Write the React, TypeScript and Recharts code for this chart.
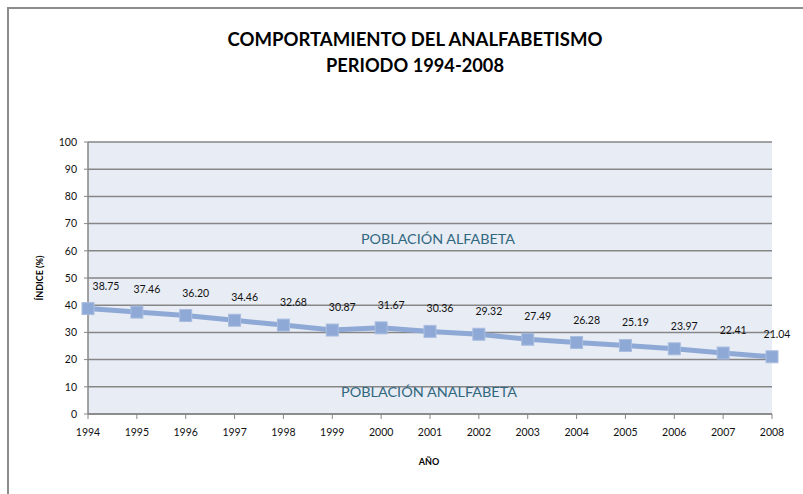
import React from "react";
import { LineChart, Line, XAxis, YAxis, CartesianGrid, LabelList, Customized } from "recharts";

const years = ["1994","1995","1996","1997","1998","1999","2000","2001","2002","2003","2004","2005","2006","2007","2008"];
const values = [38.75,37.46,36.2,34.46,32.68,30.87,31.67,30.36,29.32,27.49,26.28,25.19,23.97,22.41,21.04];
const yTicks = [0,10,20,30,40,50,60,70,80,90,100];
const titleLines = ["COMPORTAMIENTO DEL ANALFABETISMO", "PERIODO 1994-2008"];
const upperText = "POBLACIÓN ALFABETA";
const lowerText = "POBLACIÓN ANALFABETA";

const data = years.map((y, i) => ({ year: y, value: values[i] }));

const FONT = "Lato, 'Open Sans', sans-serif";
const LINE = "#8FA9D6";

const Square = (props: any) => {
  const { cx, cy } = props;
  if (cx == null || cy == null) return null;
  return <rect x={cx - 6} y={cy - 6} width={12} height={12} fill={LINE} stroke="#A9BDE0" strokeWidth={1} />;
};

const DataLabel = (props: any) => {
  const { x, y, value, index } = props;
  const dx = index === 0 ? 18 : index === values.length - 1 ? 5 : 10;
  return (
    <text x={x + dx} y={y - 19} textAnchor="middle" fontSize={10.5} fontFamily={FONT} fill="#111">
      {Number(value).toFixed(2)}
    </text>
  );
};

const Decor = () => (
  <g>
    <rect x={8} y={8} width={820} height={500} fill="none" stroke="#8C8C8C" strokeWidth={2} />
    <text x={415} y={46} textAnchor="middle" fontSize={18} fontWeight="bold" fontFamily={FONT} fill="#000" textLength={375} lengthAdjust="spacingAndGlyphs">{titleLines[0]}</text>
    <text x={415} y={72} textAnchor="middle" fontSize={18} fontWeight="bold" fontFamily={FONT} fill="#000" textLength={178} lengthAdjust="spacingAndGlyphs">{titleLines[1]}</text>
    <text x={438} y={244} textAnchor="middle" fontSize={14} fontFamily={FONT} fill="#31687F" textLength={154} lengthAdjust="spacingAndGlyphs">{upperText}</text>
    <text x={429} y={397} textAnchor="middle" fontSize={14} fontFamily={FONT} fill="#31687F" textLength={176} lengthAdjust="spacingAndGlyphs">{lowerText}</text>
    <text x={429} y={465} textAnchor="middle" fontSize={9} fontWeight="bold" fontFamily={FONT} fill="#000">AÑO</text>
    <text x={0} y={0} transform="translate(43,278) rotate(-90)" textAnchor="middle" fontSize={9} fontWeight="bold" fontFamily={FONT} fill="#000">ÍNDICE (%)</text>
  </g>
);

export default function App() {
  return (
    <div style={{ position: "absolute", left: 0, top: 0, width: 803, height: 494, background: "#fff" }}>
      <LineChart width={803} height={494} data={data} margin={{ top: 142, right: 31, bottom: 50, left: 48 }}>
        <Customized component={Decor} />
        <CartesianGrid vertical={false} stroke="#868686" strokeWidth={1.5} fill="#E8ECF4" />
        <XAxis
          dataKey="year"
          height={30}
          axisLine={{ stroke: "#868686", strokeWidth: 1.5 }}
          tickLine={{ stroke: "#868686" }}
          tickSize={5}
          tickMargin={10}
          tick={{ fontSize: 10.5, fontFamily: FONT, fill: "#111" }}
          interval={0}
        />
        <YAxis
          domain={[0, 100]}
          ticks={yTicks}
          width={40}
          axisLine={{ stroke: "#868686", strokeWidth: 1.5 }}
          tickLine={{ stroke: "#868686" }}
          tickSize={4}
          tickMargin={7}
          tick={{ fontSize: 10.5, fontFamily: FONT, fill: "#111" }}
          interval={0}
        />
        <Line
          type="linear"
          dataKey="value"
          stroke={LINE}
          strokeWidth={5}
          dot={<Square />}
          activeDot={false}
          isAnimationActive={false}
        >
          <LabelList dataKey="value" content={<DataLabel />} />
        </Line>
      </LineChart>
    </div>
  );
}
